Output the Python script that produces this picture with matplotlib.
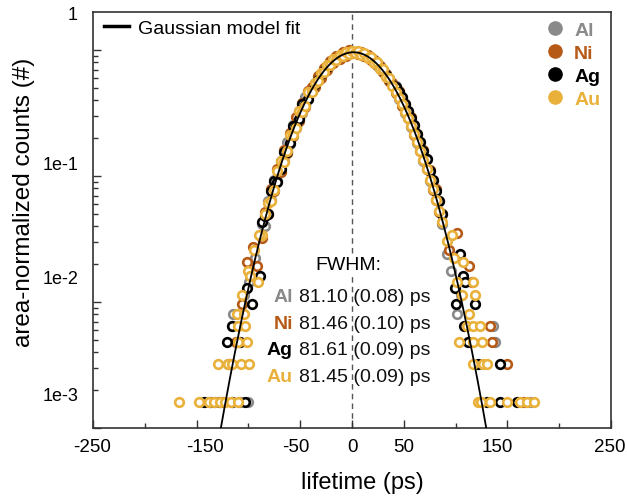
import numpy as np
import matplotlib
matplotlib.use("Agg")
import matplotlib.pyplot as plt
from matplotlib.lines import Line2D

plt.rcParams['font.family'] = ['Liberation Sans', 'DejaVu Sans']

# ---------------- data ----------------
metals = ['Al', 'Ni', 'Ag', 'Au']
colors = ['#8a8a8a', '#b65a17', '#000000', '#e9b03a']
fwhm = [81.10, 81.46, 81.61, 81.45]
fwhm_err = [0.08, 0.10, 0.09, 0.09]

norm_counts = 621.0   # area normalisation (counts -> a.u.)

lifetime_grid = [-87, -84, -81, -78, -75, -72, -69, -66, -63, -60, -57, -54, -51, -48, -45,
                 -42, -39, -36, -33, -30, -27, -24, -21, -18, -15, -12, -9, -6, -3, 0,
                 3, 6, 9, 12, 15, 18, 21, 24, 27, 30, 33, 36, 39, 42, 45,
                 48, 51, 54, 57, 60, 63, 66, 69, 72, 75, 78, 81, 84, 87]

al_core = [26, 25, 39, 40, 58, 57, 82, 81, 116, 112, 157, 150, 205, 198, 262,
           252, 294, 338, 356, 401, 418, 462, 475, 518, 526, 561, 563, 590, 585, 604,
           601, 598, 588, 561, 559, 525, 516, 476, 461, 418, 401, 357, 338, 320, 252,
           260, 198, 205, 152, 156, 113, 116, 82, 84, 57, 57, 40, 39, 26]
ni_core = [20, 32, 31, 49, 47, 70, 67, 99, 94, 137, 128, 182, 171, 236, 220,
           294, 318, 314, 384, 375, 449, 432, 508, 486, 560, 528, 596, 560, 618, 589,
           604, 582, 597, 560, 566, 522, 520, 472, 463, 416, 404, 355, 338, 282, 292,
           225, 232, 178, 182, 132, 135, 98, 99, 70, 69, 48, 49, 32, 31]
ag_core = [27, 30, 31, 47, 57, 56, 70, 97, 96, 113, 156, 154, 175, 230, 229,
           255, 296, 336, 358, 399, 420, 459, 478, 514, 528, 557, 566, 587, 588, 600,
           598, 596, 579, 574, 549, 537, 506, 487, 451, 430, 391, 368, 328, 318, 289,
           262, 232, 205, 180, 157, 134, 116, 98, 84, 68, 58, 47, 39, 31]
au_core = [21, 31, 38, 39, 48, 68, 82, 80, 98, 132, 132, 150, 205, 200, 224,
           288, 290, 342, 352, 407, 412, 468, 470, 525, 516, 570, 552, 600, 580, 612,
           590, 608, 570, 586, 535, 548, 494, 498, 440, 438, 380, 375, 322, 288, 256,
           231, 200, 178, 155, 134, 115, 98, 83, 71, 58, 49, 40, 33, 27]

al_tail_x = [-132, -120, -116, -115, -110, -108, -104, -100, -99, -94, 92, 96, 101, 105, 136, 138, 172]
al_tail_c = [1, 2, 4, 5, 3, 1, 7, 1, 9, 14, 15, 11, 5, 7, 4, 3, 1]
ni_tail_x = [-125, -118, -112, -106, -101, -96, -92, 94, 101, 113, 116, 133, 135, 150, 165]
ni_tail_c = [1, 2, 3, 6, 13, 17, 12, 16, 22, 12, 9, 4, 3, 2, 1]
ag_tail_x = [-143, -137, -127, -121, -116, -116, -108, -103, -101, -97, -89,
             99, 100, 104, 107, 108, 109, 112, 119, 122, 130, 143, 143, 159]
ag_tail_c = [1, 1, 1, 3, 4, 1, 3, 1, 8, 6, 10,
             8, 6, 15, 10, 4, 9, 3, 6, 2, 1, 2, 1, 1]
au_tail_x = [-167, -148, -138, -133, -129, -127, -123, -120, -117, -116,
             -111, -110, -110, -110, -107, -106, -104, -103, -101, -100,
             -99, -98, -95, -91, -90, 92, 97, 98, 101, 103,
             106, 107, 111, 113, 117, 117, 117, 117, 119, 122,
             124, 124.5, 125, 126, 130, 133, 150, 162, 169, 176]
au_tail_c = [1, 1, 1, 1, 2, 1, 1, 2, 1, 2,
             5, 4, 3, 1, 2, 7, 5, 4, 3, 11,
             2, 10, 16, 9, 21, 19, 21, 14, 9, 3,
             7, 13, 4, 5, 9, 4, 3, 2, 7, 1,
             4, 1, 3, 2, 2, 1, 1, 1, 1, 1]

# Gaussian model fit parameters
fit_center = 1.5
fit_amplitude = 0.96
fit_fwhm = 81.4

x_tick_labels = ['-250', '-150', '-50', '0', '50', '150', '250']
y_tick_labels = ['1', '1e-1', '1e-2', '1e-3']

# ---------------- figure ----------------
W, H = 627, 502
fig = plt.figure(figsize=(W / 100, H / 100), dpi=100)
L, R, T, B = 93, 611, 13, 429
ax = fig.add_axes([L / W, (H - B) / H, (R - L) / W, (B - T) / H])


def ax_frac(px, py):
    return (px - L) / (R - L), (B - py) / (B - T)


ax.set_xlim(-250, 250)
ax.set_yscale('log')
ax.set_ylim(1e-3, 10 ** ((B - T) / 126.0 - 3))

ax.axvline(0, color='#555555', lw=1.0, dashes=(4, 3), zorder=1)

series = [
    (al_core, al_tail_x, al_tail_c),
    (ni_core, ni_tail_x, ni_tail_c),
    (ag_core, ag_tail_x, ag_tail_c),
    (au_core, au_tail_x, au_tail_c),
]
for (core, tx, tc), col in zip(series, colors):
    xs = np.array(list(lifetime_grid) + list(tx), dtype=float)
    ys = np.array(list(core) + list(tc), dtype=float) / norm_counts
    ax.plot(xs, ys, ls='none', marker='o', ms=6.2, mew=1.9, mfc='white', mec=col, zorder=3)

sigma = fit_fwhm / (2 * np.sqrt(2 * np.log(2)))
xf = np.linspace(-250, 250, 1001)
yf = fit_amplitude * np.exp(-(xf - fit_center) ** 2 / (2 * sigma ** 2))
ax.plot(xf, yf, color='black', lw=1.3, zorder=4)

# ticks
for s in ax.spines.values():
    s.set_color('#333333')
    s.set_linewidth(1.2)
ax.set_xticks([-250, -150, -50, 0, 50, 150, 250])
ax.set_xticks([-200, -100, 100, 200], minor=True)
ax.set_yticks([1, 0.1, 0.01, 0.001])
ax.set_yticks([m * 10.0 ** e for e in (-3, -2, -1, 0) for m in range(2, 10) if m * 10.0 ** e < 2.0], minor=True)
ax.tick_params(which='major', direction='in', length=6, width=1.0, color='#333333',
               labelbottom=False, labelleft=False, top=False, right=False)
ax.tick_params(which='minor', direction='in', length=3.5, width=1.0, color='#333333',
               labelbottom=False, labelleft=False, top=False, right=False)

# tick labels (placed where they sit in the reference)
x_label_px = [92, 205, 296, 353, 404, 497, 610]
for lab, px in zip(x_tick_labels, x_label_px):
    fx, fy = ax_frac(px, 448)
    ax.text(fx, fy, lab, transform=ax.transAxes, ha='center', va='center', fontsize=13.5, clip_on=False)
y_label_py = [15, 165, 280, 397]
for lab, py in zip(y_tick_labels, y_label_py):
    fx, fy = ax_frac(78, py)
    ax.text(fx, fy, lab, transform=ax.transAxes, ha='right', va='center', fontsize=13, clip_on=False)

ax.set_xlabel('lifetime (ps)', fontsize=17, va='center')
ax.xaxis.set_label_coords(*ax_frac(362, 483))
ax.set_ylabel('area-normalized counts (#)', fontsize=17.5, va='center')
ax.yaxis.set_label_coords(*ax_frac(24, 202))

# legends
leg1 = ax.legend(handles=[Line2D([], [], color='black', lw=2.5)], labels=['Gaussian model fit'],
                 loc='upper left', bbox_to_anchor=ax_frac(104, 20), frameon=False, fontsize=14,
                 handlelength=1.3, handletextpad=0.45, borderpad=0, borderaxespad=0)
ax.add_artist(leg1)

handles = [Line2D([], [], ls='none', marker='o', ms=9.5, color=c) for c in colors]
leg2 = ax.legend(handles=handles, labels=metals, loc='upper left', bbox_to_anchor=ax_frac(545, 22),
                 frameon=False, prop={'weight': 'bold', 'size': 14}, labelcolor=colors,
                 handlelength=1.0, handletextpad=0.5, borderpad=0, borderaxespad=0, labelspacing=0.28)

# FWHM annotation
fx, fy = ax_frac(315, 265)
ax.text(fx, fy, 'FWHM:', transform=ax.transAxes, ha='left', va='center', fontsize=14,
        bbox=dict(facecolor='white', edgecolor='none', pad=1), zorder=2)
row_py = [298, 325, 351, 378]
for m, c, f, e, py in zip(metals, colors, fwhm, fwhm_err, row_py):
    fx, fy = ax_frac(293, py)
    ax.text(fx, fy, m, transform=ax.transAxes, ha='right', va='center', fontsize=14,
            fontweight='bold', color=c, zorder=5)
    fx, fy = ax_frac(299, py)
    ax.text(fx, fy, f'{f:.2f} ({e:.2f}) ps', transform=ax.transAxes, ha='left', va='center',
            fontsize=14, color='#111111', zorder=5)

fig.savefig('out.png', dpi=100)
